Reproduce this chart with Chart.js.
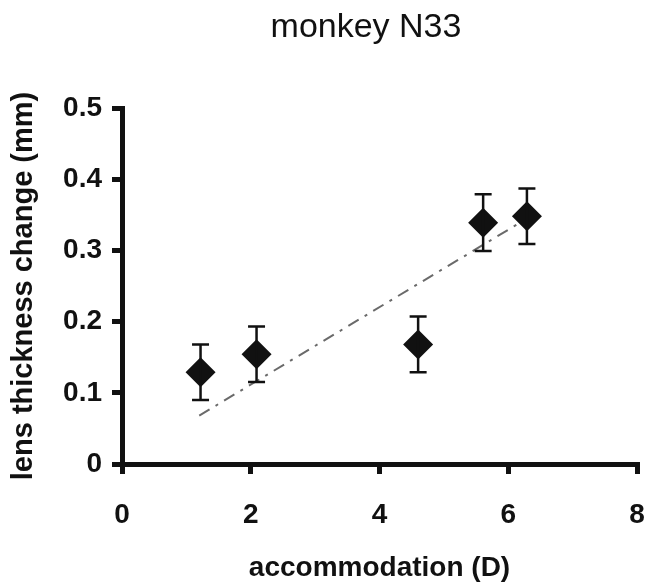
<!DOCTYPE html>
<html>
<head>
<meta charset="utf-8">
<script src="https://cdn.jsdelivr.net/npm/chart.js@4"></script>
<style>
  body { margin: 0; background: #fff; }
  #wrap { width: 652px; height: 585px; }
</style>
</head>
<body>
<div id="wrap"><canvas id="chart"></canvas></div>
<script>
// data
const accommodation = [1.22, 2.09, 4.6, 5.61, 6.29];
const thicknessChange = [0.129, 0.154, 0.168, 0.339, 0.348];
const errorSD = [0.039, 0.039, 0.039, 0.04, 0.039];
// dashed fit line, end points
const trendX = [1.2, 6.22];
const trendY = [0.068, 0.341];
// ticks
const xTicks = [0, 2, 4, 6, 8];
const yTicks = [0, 0.1, 0.2, 0.3, 0.4, 0.5];
const yTickLabels = ["0", "0.1", "0.2", "0.3", "0.4", "0.5"];

const FONT = "'Liberation Sans', Arial, sans-serif";

//error bars with caps
const errorBars = {
  id: "errorBars",
  afterDatasetsDraw(chart) {
    const ctx = chart.ctx;
    const xs = chart.scales.x;
    const ys = chart.scales.y;
    ctx.save();
    ctx.strokeStyle = "#111";
    ctx.lineWidth = 2.5;
    accommodation.forEach((xv, i) => {
      const x = xs.getPixelForValue(xv);
      const top = ys.getPixelForValue(thicknessChange[i] + errorSD[i]);
      const bot = ys.getPixelForValue(thicknessChange[i] - errorSD[i]);
      ctx.beginPath();
      ctx.moveTo(x, top);
      ctx.lineTo(x, bot);
      ctx.moveTo(x - 8.5, top);
      ctx.lineTo(x + 8.5, top);
      ctx.moveTo(x - 8.5, bot);
      ctx.lineTo(x + 8.5, bot);
      ctx.stroke();
    });
    ctx.restore();
  },
};

//title text
const titleText = {
  id: "titleText",
  afterDraw(chart) {
    const ctx = chart.ctx;
    ctx.save();
    ctx.fillStyle = "#111";
    ctx.font = "34px " + FONT;
    ctx.textAlign = "center";
    ctx.textBaseline = "middle";
    ctx.fillText("monkey N33", 366, 28);
    ctx.restore();
  },
};

const ctx = document.getElementById("chart").getContext("2d");
const myChart = new Chart(ctx, {
  type: "scatter",
  data: {
    datasets: [
      {
        label: "lens thickness change",
        data: accommodation.map((x, i) => ({ x: x, y: thicknessChange[i] })),
        pointStyle: "rectRot",
        pointRadius: 15,
        pointBackgroundColor: "#111",
        pointBorderWidth: 0,
        order: 1,
      },
      {
        label: "fit",
        type: "line",
        data: trendX.map((x, i) => ({ x: x, y: trendY[i] })),
        borderColor: "#6a6a6a",
        borderWidth: 2,
        borderDash: [12, 7, 3, 7],
        pointRadius: 0,
        fill: false,
        order: 2,
      },
    ],
  },
  options: {
    responsive: true,
    maintainAspectRatio: false,
    animation: false,
    layout: { padding: { top: 108, right: 11, left: 0, bottom: 0 } },
    plugins: {
      legend: { display: false },
      tooltip: { enabled: false },
    },
    scales: {
      x: {
        type: "linear",
        min: 0,
        max: 8,
        afterBuildTicks: (scale) => {
          scale.ticks = xTicks.map((v) => ({ value: v }));
        },
        afterFit: (scale) => {
          scale.height = 121;
          scale.paddingLeft = 0;
          scale.paddingRight = 0;
        },
        border: { color: "#111", width: 5 },
        grid: {
          drawOnChartArea: false,
          color: "#111",
          lineWidth: 5,
          tickLength: 10,
        },
        ticks: {
          color: "#111",
          padding: 24,
          font: { family: FONT, size: 28, weight: "bold" },
        },
        title: {
          display: true,
          text: "accommodation (D)",
          color: "#111",
          padding: { top: 0, bottom: 0 },
          font: { family: FONT, size: 28, weight: "bold", lineHeight: 1.2 },
        },
      },
      y: {
        type: "linear",
        min: 0,
        max: 0.5,
        afterBuildTicks: (scale) => {
          scale.ticks = yTicks.map((v) => ({ value: v }));
        },
        afterFit: (scale) => {
          scale.width = 122;
          scale.paddingTop = 0;
          scale.paddingBottom = 0;
        },
        border: { color: "#111", width: 5 },
        grid: {
          drawOnChartArea: false,
          color: "#111",
          lineWidth: 5,
          tickLength: 10,
        },
        ticks: {
          color: "#111",
          padding: 10,
          font: { family: FONT, size: 28, weight: "bold" },
          callback: (value, index) => yTickLabels[index],
        },
        title: {
          display: true,
          text: "lens thickness change (mm)",
          color: "#111",
          padding: { top: 9, bottom: 0 },
          font: { family: FONT, size: 29, weight: "bold", lineHeight: 1.0 },
        },
      },
    },
  },
  plugins: [errorBars, titleText],
});
</script>
</body>
</html>
